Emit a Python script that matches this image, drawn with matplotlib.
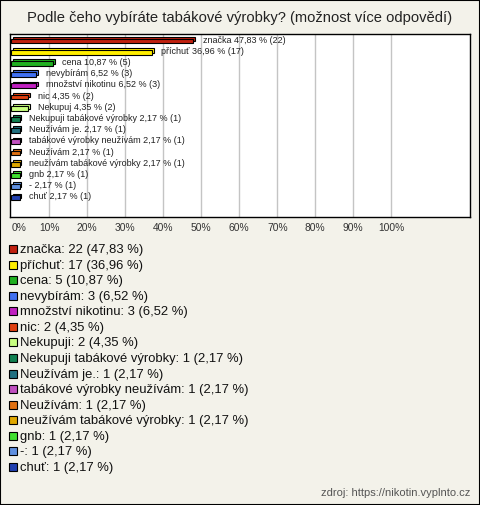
import matplotlib
matplotlib.use("Agg")
import matplotlib.pyplot as plt
from matplotlib.patches import Rectangle
import numpy as np

plt.rcParams['font.family'] = ['Liberation Sans', 'DejaVu Sans']

title = "Podle čeho vybíráte tabákové výrobky? (možnost více odpovědí)"
categories = ["značka", "příchuť", "cena", "nevybírám", "množství nikotinu", "nic",
              "Nekupuji", "Nekupuji tabákové výrobky", "Neužívám je.",
              "tabákové výrobky neužívám", "Neužívám", "neužívám tabákové výrobky",
              "gnb", "-", "chuť"]
bar_labels = ["značka", "příchuť", "cena", "nevybírám", "množství nikotinu", "nic",
              "Nekupuj", "Nekupuji tabákové výrobky", "Neužívám je.",
              "tabákové výrobky neužívám", "Neužívám", "neužívám tabákové výrobky",
              "gnb", "-", "chuť"]
counts = [22, 17, 5, 3, 3, 2, 2, 1, 1, 1, 1, 1, 1, 1, 1]
percents = [47.83, 36.96, 10.87, 6.52, 6.52, 4.35, 4.35, 2.17, 2.17, 2.17, 2.17, 2.17, 2.17, 2.17, 2.17]
colors = ["#C0200F", "#FFEE00", "#20B020", "#4070F0", "#C020C0", "#E04010",
          "#C8FF80", "#108050", "#207080", "#C050C0", "#E07010", "#E0A800",
          "#40E030", "#6090E0", "#2040B0"]
ticks = [0, 10, 20, 30, 40, 50, 60, 70, 80, 90, 100]
source = "zdroj: https://nikotin.vyplnto.cz"

W, H = 480, 505
bg = "#F3F2EA"
fig = plt.figure(figsize=(W / 100, H / 100), dpi=100, facecolor=bg)

def fx(px):
    return px / W

def fy(py):
    return 1 - py / H

def cz(v):
    return f"{v:.2f}".replace(".", ",")

# plot box
left, right, top, bottom = 10, 470, 34, 217
ax = fig.add_axes([fx(left), fy(bottom), fx(right - left), (bottom - top) / H])
ax.set_facecolor("white")
n = len(categories)
row0, step = 41, 11.2
ax.set_ylim((bottom - row0) / step, (top - row0) / step)
ax.set_xlim((left - 11.3) / 3.8, (right - 11.3) / 3.8)
for t in ticks[1:]:
    ax.axvline(t, color="#C4C4C4", lw=1, zorder=0)

y = np.arange(n)
bh = 0.42
dx, dy = 0.5, 0.17
for i, (p, c) in enumerate(zip(percents, colors)):
    # depth (3D) part
    ax.barh(y[i] - dy, p, height=bh, left=dx, color=c, edgecolor="black", lw=0.8, zorder=2)
    ax.barh(y[i], p, height=bh, left=0, color=c, edgecolor="black", lw=0.8, zorder=3)
    ax.annotate(f"{bar_labels[i]} {cz(p)} % ({counts[i]})",
                xy=(p, y[i] - dy / 2), xytext=(7, 0), textcoords="offset points",
                va="center", ha="left", fontsize=6.5, color="#222222", zorder=4)

ax.set_xticks(ticks)
ax.set_xticklabels([f"{t}%" for t in ticks], fontsize=7.4, color="#333333")
ax.get_xticklabels()[0].set_ha("left")
ax.tick_params(axis="x", length=0, pad=4)
ax.set_yticks([])
for s in ax.spines.values():
    s.set_color("black")
    s.set_linewidth(1)

fig.text(0.5, fy(18), title, ha="center", va="center", fontsize=10.6, color="#222222")

# legend
lrow0, lstep = 250, 15.57
for i, (cat, cnt, p, c) in enumerate(zip(categories, counts, percents, colors)):
    yc = lrow0 + i * lstep
    fig.patches.append(Rectangle((fx(9), fy(yc + 3)), fx(8), 8 / H, transform=fig.transFigure,
                                 facecolor=c, edgecolor="black", lw=0.8))
    fig.text(fx(20), fy(yc), f"{cat}: {cnt} ({cz(p)} %)",
             ha="left", va="center", fontsize=9.4, color="#111111")

fig.text(fx(470), fy(493), source, ha="right", va="center", fontsize=8, color="#555555")

fig.patches.append(Rectangle((0, 0), 1, 1, transform=fig.transFigure, fill=False,
                             edgecolor="black", lw=1.5))

fig.savefig("out.png", dpi=100, facecolor=bg)
